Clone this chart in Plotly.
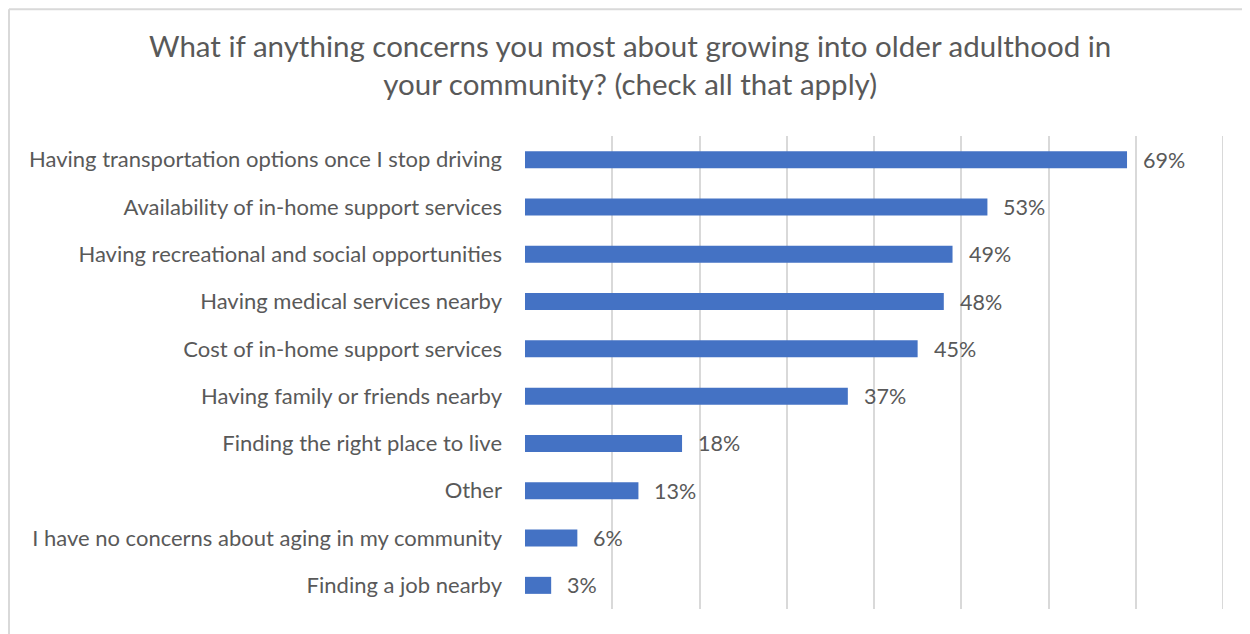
import plotly.graph_objects as go

categories = [
    "Having transportation options once I stop driving",
    "Availability of in-home support services",
    "Having recreational and social opportunities",
    "Having medical services nearby",
    "Cost of in-home support services",
    "Having family or friends nearby",
    "Finding the right place to live",
    "Other",
    "I have no concerns about aging in my community",
    "Finding a job nearby",
]
values = [69, 53, 49, 48, 45, 37, 18, 13, 6, 3]
value_labels = [f"{v}%" for v in values]
title_text = ("What if anything concerns you most about growing into older adulthood in<br>"
              "your community? (check all that apply)")
x_max = 80

OFF = 8  # page body margin
W, H = 1250 - OFF, 634 - OFF
L = 525 - OFF
T = 136 - OFF
R = W - (1223 - OFF)
B = H - (609.5 - OFF)
pw, ph = W - L - R, H - T - B

def px_x(x):
    return (x - OFF - L) / pw

def px_y(y):
    return (H - B - (y - OFF)) / ph

FONT = "Lato"
TXT = "#595959"
GRID = "#D9D9D9"

fig = go.Figure()
fig.add_trace(go.Bar(
    x=values, y=categories, orientation="h",
    marker=dict(color="#4472C4", line=dict(width=0)),
    hoverinfo="skip",
))

for c, v, t in zip(categories, values, value_labels):
    fig.add_annotation(x=v, y=c, text=t, showarrow=False, xanchor="left",
                       xshift=14, font=dict(family=FONT, size=21.5, color=TXT))

fig.add_annotation(xref="paper", yref="paper", x=px_x(630), y=px_y(64),
                   text=title_text, showarrow=False, xanchor="center", yanchor="middle",
                   font=dict(family=FONT, size=29.5, color=TXT))

# last gridline at the axis end
fig.add_shape(type="line", xref="x", yref="paper", x0=x_max, x1=x_max, y0=0, y1=1,
              line=dict(color=GRID, width=2), layer="below")

# chart border (left and top edges visible)
fig.add_shape(type="line", xref="paper", yref="paper",
              x0=px_x(9), x1=px_x(9), y0=px_y(9), y1=px_y(660),
              line=dict(color=GRID, width=2))
fig.add_shape(type="line", xref="paper", yref="paper",
              x0=px_x(9), x1=px_x(1270), y0=px_y(9), y1=px_y(9),
              line=dict(color=GRID, width=2))

fig.update_layout(
    width=W, height=H,
    margin=dict(l=L, r=R, t=T, b=B, autoexpand=False),
    paper_bgcolor="white", plot_bgcolor="white",
    bargap=0.64,
    showlegend=False,
    font=dict(family=FONT, color=TXT),
    xaxis=dict(range=[0, x_max], dtick=10, showticklabels=False, showgrid=True,
               gridcolor=GRID, gridwidth=2, zeroline=False, showline=False, fixedrange=True),
    yaxis=dict(autorange="reversed", showgrid=False, showline=False, ticks="",
               ticklabelstandoff=22, tickfont=dict(family=FONT, size=22, color=TXT), fixedrange=True),
)

fig.write_html("out.html", config={"displayModeBar": False})
